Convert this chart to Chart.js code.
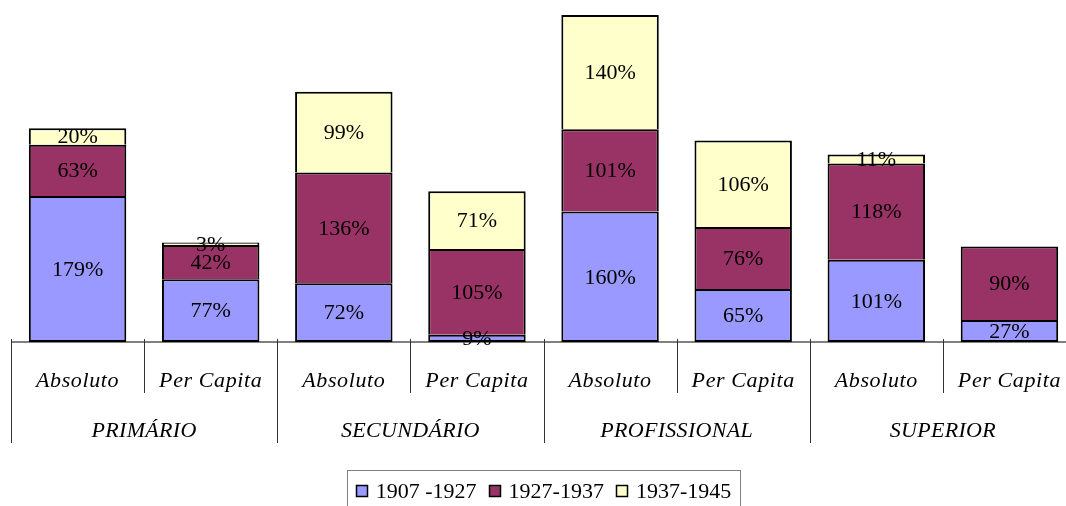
<!DOCTYPE html>
<html>
<head>
<meta charset="utf-8">
<script src="https://cdn.jsdelivr.net/npm/chart.js@4/dist/chart.umd.min.js"></script>
<style>
  html, body { margin: 0; padding: 0; background: #ffffff; overflow: hidden; }
  #wrap { position: relative; width: 1076px; height: 506px; }
</style>
</head>
<body>
<div id="wrap"><canvas id="c"></canvas></div>
<script>
// ---- data ----
const subLabels = ['Absoluto', 'Per Capita', 'Absoluto', 'Per Capita', 'Absoluto', 'Per Capita', 'Absoluto', 'Per Capita'];
const groupLabels = ['PRIMÁRIO', 'SECUNDÁRIO', 'PROFISSIONAL', 'SUPERIOR'];
const seriesNames = ['1907 -1927', '1927-1937', '1937-1945'];
const s1907_1927 = [179, 77, 72, 9, 160, 65, 101, 27];
const s1927_1937 = [63, 42, 136, 105, 101, 76, 118, 90];
const s1937_1945 = [20, 3, 99, 71, 140, 106, 11, 0];
const seriesColors = ['#9999FF', '#993366', '#FFFFCC'];

const SERIF = '"Liberation Serif", "DejaVu Serif", serif';

const axisPlugin = {
  id: 'groupAxis',
  beforeDatasetsDraw(chart) {
    const ctx = chart.ctx;
    const x = chart.scales.x;
    const area = chart.chartArea;
    ctx.save();
    ctx.strokeStyle = '#808080';
    ctx.lineWidth = 2;
    ctx.beginPath();
    ctx.moveTo(area.left, area.bottom);
    ctx.lineTo(chart.width, area.bottom);
    ctx.stroke();
    ctx.restore();
  },
  afterDraw(chart) {
    const ctx = chart.ctx;
    const x = chart.scales.x;
    const area = chart.chartArea;
    const n = subLabels.length;
    const half = (x.getPixelForValue(1) - x.getPixelForValue(0)) / 2;
    ctx.save();
    // separators
    ctx.strokeStyle = '#333333';
    ctx.lineWidth = 1;
    for (let i = 0; i <= n; i++) {
      const px = Math.round(x.getPixelForValue(Math.min(i, n - 1)) + (i === n ? half : -half)) + 0.5;
      const isGroup = i % 2 === 0;
      ctx.beginPath();
      ctx.moveTo(px, area.bottom - 3);
      ctx.lineTo(px, area.bottom + (isGroup ? 101 : 51));
      ctx.stroke();
    }
    // sub labels
    ctx.fillStyle = '#000000';
    ctx.textAlign = 'center';
    ctx.textBaseline = 'alphabetic';
    ctx.font = 'italic 22px ' + SERIF;
    ctx.letterSpacing = '0.6px';
    for (let i = 0; i < n; i++) {
      ctx.fillText(subLabels[i], x.getPixelForValue(i), area.bottom + 45);
    }
    ctx.letterSpacing = '0.3px';
    for (let g = 0; g < groupLabels.length; g++) {
      const cx = (x.getPixelForValue(2 * g) + x.getPixelForValue(2 * g + 1)) / 2;
      ctx.fillText(groupLabels[g], cx, area.bottom + 95);
    }
    ctx.letterSpacing = '0px';
    // legend
    ctx.font = '22px ' + SERIF;
    const box = 12, gap = 8, spacing = 12;
    const ds = chart.data.datasets;
    const widths = ds.map(d => ctx.measureText(d.label).width);
    let total = 0;
    widths.forEach((w, i) => { total += box + gap + w + (i < widths.length - 1 ? spacing : 0); });
    const cxL = (area.left + area.right) / 2;
    let lx = cxL - total / 2;
    const ly = 491;
    ctx.strokeStyle = '#808080';
    ctx.lineWidth = 1;
    ctx.strokeRect(Math.round(lx - 9) + 0.5, 470.5, Math.round(total + 18), 60);
    ctx.textAlign = 'left';
    ctx.textBaseline = 'middle';
    ds.forEach((d, i) => {
      ctx.fillStyle = d.backgroundColor;
      ctx.fillRect(Math.round(lx), ly - 6, box, box);
      ctx.strokeStyle = '#000000';
      ctx.lineWidth = 1.5;
      ctx.strokeRect(Math.round(lx) + 0.5, ly - 6 + 0.5, box - 1, box - 1);
      ctx.fillStyle = '#000000';
      ctx.fillText(d.label, lx + box + gap, ly + 1);
      lx += box + gap + widths[i] + spacing;
    });
    ctx.restore();
  }
};

const valueLabels = {
  id: 'valueLabels',
  afterDatasetsDraw(chart) {
    const ctx = chart.ctx;
    ctx.save();
    ctx.font = '22px ' + SERIF;
    ctx.fillStyle = '#000000';
    ctx.textAlign = 'center';
    ctx.textBaseline = 'middle';
    chart.data.datasets.forEach((d, di) => {
      const meta = chart.getDatasetMeta(di);
      meta.data.forEach((el, i) => {
        const v = d.data[i];
        if (!v) return;
        ctx.fillText(v + '%', el.x, (el.y + el.base) / 2 + 1);
      });
    });
    ctx.restore();
  }
};

const seriesData = [s1907_1927, s1927_1937, s1937_1945];
new Chart(document.getElementById('c'), {
  type: 'bar',
  data: {
    labels: subLabels,
    datasets: seriesData.map((arr, i) => ({
      label: seriesNames[i],
      data: arr,
      backgroundColor: seriesColors[i],
      borderColor: '#000000',
      borderWidth: i === 0 ? { top: 2, left: 2, right: 2, bottom: 2 } : { top: 2, left: 2, right: 2, bottom: 0 },
      borderSkipped: false,
      barPercentage: 0.732,
      categoryPercentage: 1.0
    }))
  },
  options: {
    responsive: true,
    maintainAspectRatio: false,
    animation: false,
    layout: { padding: { left: 11, right: 0, top: 0, bottom: 164 } },
    plugins: { legend: { display: false }, tooltip: { enabled: false } },
    scales: {
      x: { stacked: true, display: false },
      y: { stacked: true, display: false, min: 0, max: 419.4 }
    }
  },
  plugins: [axisPlugin, valueLabels]
});
</script>
</body>
</html>
